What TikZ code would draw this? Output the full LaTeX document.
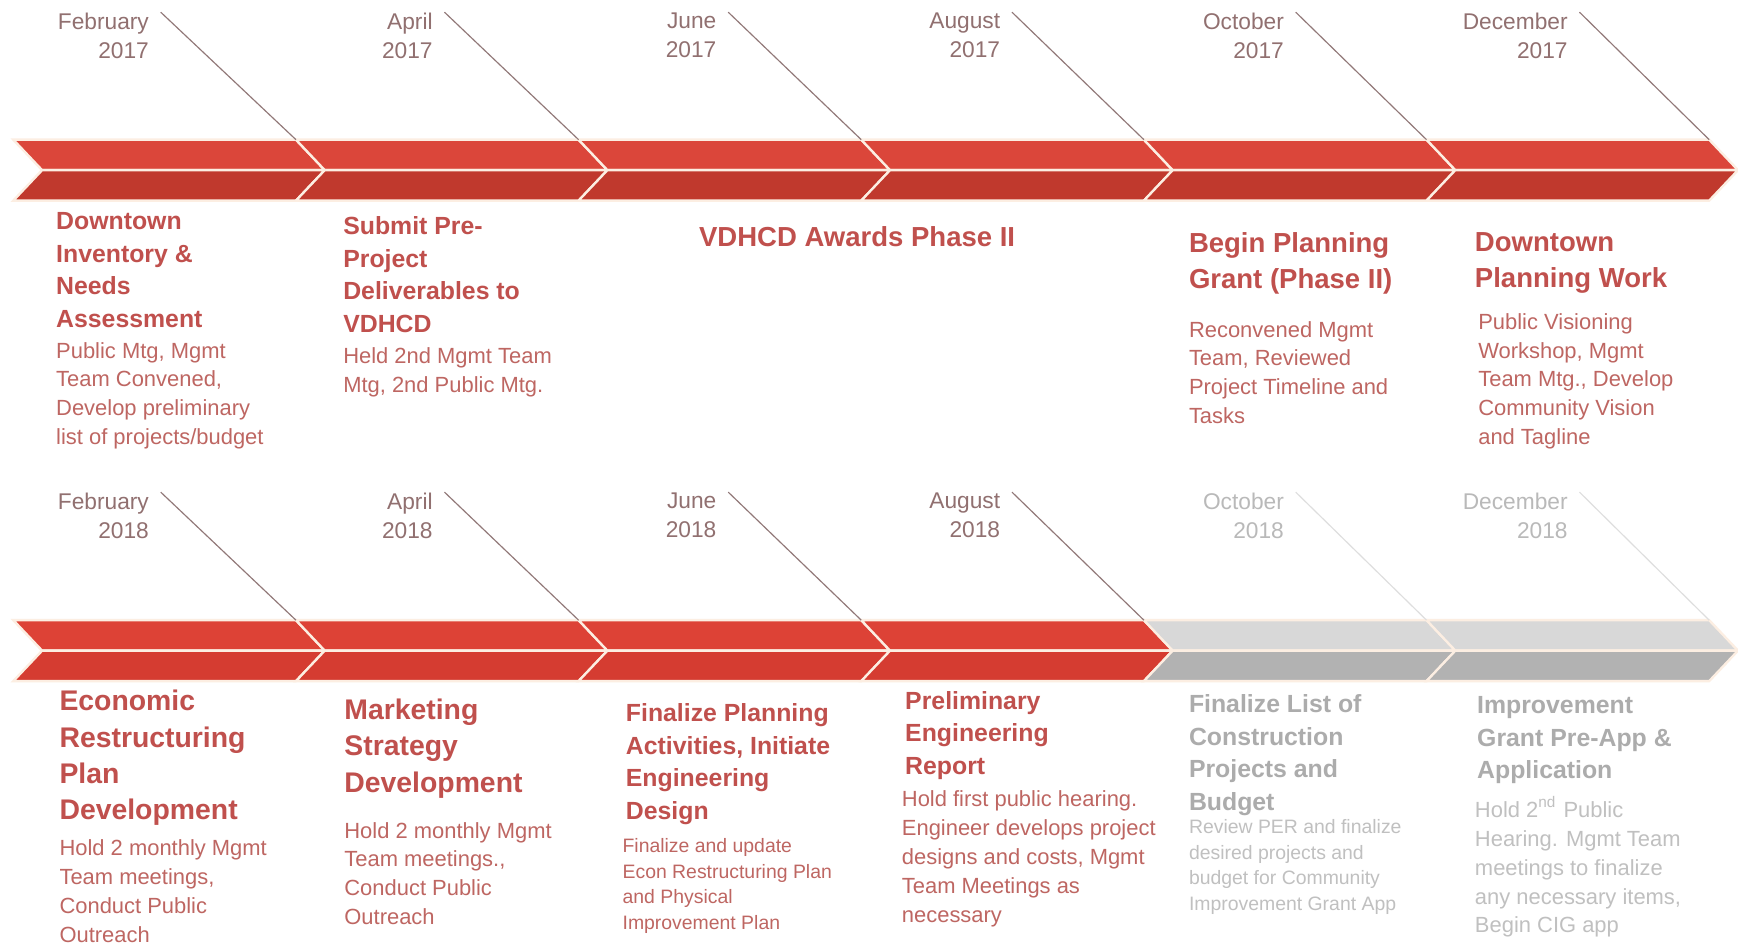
\documentclass[tikz,border=0pt]{standalone}
\usepackage{fontspec}
\setmainfont{Liberation Sans}

\definecolor{redhi}{RGB}{219,70,58}
\definecolor{redlo}{RGB}{192,57,45}
\definecolor{redhib}{RGB}{221,66,54}
\definecolor{redlob}{RGB}{213,60,49}
\definecolor{greyhi}{RGB}{216,216,216}
\definecolor{greylo}{RGB}{178,178,178}
\definecolor{seamcol}{RGB}{252,238,226}
\definecolor{titlered}{RGB}{192,80,77}
\definecolor{bodyred}{RGB}{190,102,98}
\definecolor{datebrown}{RGB}{145,112,112}
\definecolor{linebrown}{RGB}{145,120,120}
\definecolor{fadetitle}{RGB}{172,172,172}
\definecolor{fadebody}{RGB}{192,192,192}
\definecolor{fadedate}{RGB}{185,185,185}
\definecolor{fadeline}{RGB}{222,222,222}

\tikzset{
  seam/.style={draw=seamcol, line width=0.6pt},
  datelbl/.style={anchor=north east, align=right, inner sep=0, font=\fontsize{5.83}{7.4}\selectfont},
  dateline/.style={line width=0.3pt},
  stagetitle/.style={anchor=north west, align=left, inner sep=0, text=titlered, font=\bfseries\fontsize{6.37}{8.34}\selectfont},
  bigtitle/.style={stagetitle, font=\bfseries\fontsize{7.06}{9.39}\selectfont},
  bottitle/.style={stagetitle, font=\bfseries\fontsize{7.28}{9.3}\selectfont},
  stagebody/.style={anchor=north west, align=left, inner sep=0, text=bodyred, font=\fontsize{5.63}{7.4}\selectfont},
  smallbody/.style={stagebody, font=\fontsize{4.98}{6.54}\selectfont},
}

\begin{document}
\begin{tikzpicture}[x=0.01cm, y=-0.01cm]
	\path[fill=white, use as bounding box] (0,0) rectangle (1568,851);

	% 2017 chevron band
	\foreach \i in {0,...,5}{
		\pgfmathsetmacro\n{38+255*\i}
		\filldraw[fill=redhi, seam] (\n-26,126) -- (\n+229,126) -- (\n+255,153.5) -- (\n,153.5) -- cycle;
		\filldraw[fill=redlo, seam] (\n,153.5) -- (\n+255,153.5) -- (\n+229,181) -- (\n-26,181) -- cycle;
		\coordinate (ctop\i) at (\n+229,126);
	}
	% 2018 chevron band, last two still to come
	\foreach \i/\ca/\cb in {0/redhib/redlob,1/redhib/redlob,2/redhib/redlob,3/redhib/redlob,4/greyhi/greylo,5/greyhi/greylo}{
		\pgfmathsetmacro\n{38+255*\i}
		\filldraw[fill=\ca, seam] (\n-26,559.5) -- (\n+229,559.5) -- (\n+255,587) -- (\n,587) -- cycle;
		\filldraw[fill=\cb, seam] (\n,587) -- (\n+255,587) -- (\n+229,614.5) -- (\n-26,614.5) -- cycle;
		\coordinate (cbot\i) at (\n+229,559.5);
	}

	% month labels with their pointers
	\foreach \i/\m/\nm in {0/February/feb,1/April/apr,2/June/jun,3/August/aug,4/October/oct,5/December/dec}{
		\node[datelbl, text=datebrown] (\nm17) at (135+256*\i,11) {\m\\2017};
		\draw[dateline, draw=linebrown] ([xshift=0.1cm]\nm17.north east) -- (ctop\i);
	}
	\foreach \i/\m/\nm/\tc/\lc in {0/February/feb/datebrown/linebrown,1/April/apr/datebrown/linebrown,2/June/jun/datebrown/linebrown,3/August/aug/datebrown/linebrown,4/October/oct/fadedate/fadeline,5/December/dec/fadedate/fadeline}{
		\node[datelbl, text=\tc] (\nm18) at (135+256*\i,444) {\m\\2018};
		\draw[dateline, draw=\lc] ([xshift=0.1cm]\nm18.north east) -- (cbot\i);
	}

	% 2017 stages
	\node[stagetitle] (inventory) at (50,191) {Downtown\\Inventory \&\\Needs\\Assessment};
	\node[stagebody] (inventorytxt) at (50,308) {Public Mtg, Mgmt\\Team Convened,\\Develop preliminary\\list of projects/budget};
	\node[stagetitle] (submit) at (309,195) {Submit Pre-\\Project\\Deliverables to\\VDHCD};
	\node[stagebody] (submittxt) at (309,313) {Held 2nd Mgmt Team\\Mtg, 2nd Public Mtg.};
	\node[bigtitle] (awards) at (630,204) {VDHCD Awards Phase II};
	\node[bigtitle] (grant) at (1072,209) {Begin Planning\\Grant (Phase II)};
	\node[stagebody] (granttxt) at (1072,289) {Reconvened Mgmt\\Team, Reviewed\\Project Timeline and\\Tasks};
	\node[bigtitle] (planwork) at (1330,209) {Downtown\\Planning Work};
	\node[stagebody] (planworktxt) at (1333,282) {Public Visioning\\Workshop, Mgmt\\Team Mtg., Develop\\Community Vision\\and Tagline};

	% 2018 stages
	\node[bottitle] (econ) at (53,622) {Economic\\Restructuring\\Plan\\Development};
	\node[stagebody] (econtxt) at (53,757) {Hold 2 monthly Mgmt\\Team meetings,\\Conduct Public\\Outreach};
	\node[bottitle] (marketing) at (310,630) {Marketing\\Strategy\\Development};
	\node[stagebody] (marketingtxt) at (310,741) {Hold 2 monthly Mgmt\\Team meetings.,\\Conduct Public\\Outreach};
	\node[stagetitle] (design) at (564,634) {Finalize Planning\\Activities, Initiate\\Engineering\\Design};
	\node[smallbody] (designtxt) at (561,756) {Finalize and update\\Econ Restructuring Plan\\and Physical\\Improvement Plan};
	\node[stagetitle] (per) at (816,623) {Preliminary\\Engineering\\Report};
	\node[stagebody] (pertxt) at (813,713) {Hold first public hearing.\\Engineer develops project\\designs and costs, Mgmt\\Team Meetings as\\necessary};
	\node[stagetitle, text=fadetitle] (budget) at (1072,626) {Finalize List of\\Construction\\Projects and\\Budget};
	\node[smallbody, text=fadebody] (budgettxt) at (1072,739) {Review PER and finalize\\desired projects and\\budget for Community\\Improvement Grant App};
	\node[stagetitle, text=fadetitle] (cig) at (1332,628) {Improvement\\Grant Pre-App \&\\Application};
	\node[stagebody, text=fadebody] (cigtxt) at (1330,718) {Hold 2\textsuperscript{nd} Public\\Hearing. Mgmt Team\\meetings to finalize\\any necessary items,\\Begin CIG app};

\end{tikzpicture}
\end{document}
